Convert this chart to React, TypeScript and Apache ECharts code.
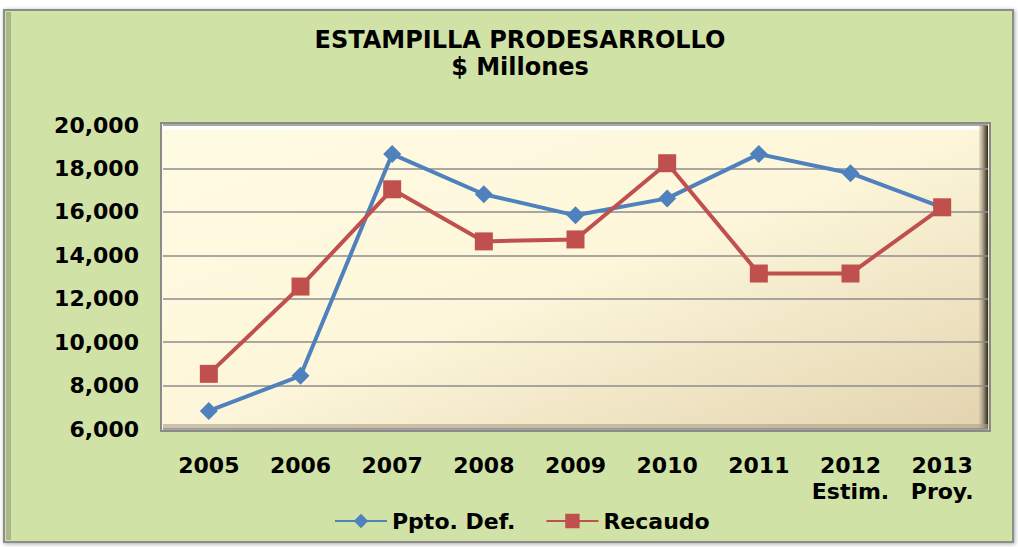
import React, { useEffect, useRef } from "react";
import * as echarts from "echarts";

const categories = ["2005", "2006", "2007", "2008", "2009", "2010", "2011", "2012\nEstim.", "2013\nProy."];
const pptoDef = [6830, 8450, 18660, 16810, 15840, 16620, 18660, 17780, 16210];
const recaudo = [8540, 12560, 17040, 14640, 14730, 18240, 13160, 13160, 16210];
const yMin = 6000;
const yMax = 20000;
const yStep = 2000;

const FONT = "'DejaVu Sans', 'Liberation Sans', Arial, sans-serif";

export default function App() {
  const ref = useRef<HTMLDivElement>(null);
  useEffect(() => {
    if (!ref.current) return;
    const chart = echarts.init(ref.current, undefined, { renderer: "svg" });
    const gL = 163, gT = 125, gR = 988, gB = 429;
    chart.setOption({
      animation: false,
      backgroundColor: "#ffffff",
      title: {
        text: "ESTAMPILLA PRODESARROLLO\n$ Millones",
        left: 515,
        top: 21,
        textAlign: "center",
        textStyle: { fontFamily: FONT, fontWeight: "bold", fontSize: 24, lineHeight: 27, color: "#000" },
      },
      graphic: [
        {
          type: "rect",
          z: -10,
          shape: { x: 4, y: 10, width: 1009, height: 532 },
          style: { fill: "#D1E2A6", stroke: "#8C8C8C", lineWidth: 2, shadowBlur: 4, shadowColor: "rgba(0,0,0,0.35)", shadowOffsetX: 1, shadowOffsetY: 1 },
          silent: true,
        },
        {
          type: "rect",
          z: -9,
          shape: { x: 6, y: 12, width: 5, height: 528 },
          style: { fill: "#A9B889" },
          silent: true,
        },
        {
          type: "rect",
          z: -9,
          shape: { x: gL - 2, y: gT - 2, width: gR - gL + 4, height: gB - gT + 4 },
          style: {
            fill: new echarts.graphic.LinearGradient(0, 0, 1, 1, [
              { offset: 0, color: "#FFFBE3" },
              { offset: 0.5, color: "#FDF6DA" },
              { offset: 1, color: "#E2D3AE" },
            ]),
            stroke: "#8A8A8A",
            lineWidth: 2,
          },
          silent: true,
        },
        {
          type: "rect",
          z: -8,
          shape: { x: gL, y: gT, width: gR - gL - 6, height: 5 },
          style: { fill: "rgba(255,255,255,0.9)" },
          silent: true,
        },
        {
          type: "rect",
          z: -8,
          shape: { x: gR - 9, y: gT, width: 9, height: gB - gT },
          style: {
            fill: new echarts.graphic.LinearGradient(0, 0, 1, 0, [
              { offset: 0, color: "rgba(200,190,160,0.4)" },
              { offset: 0.5, color: "#9A9078" },
              { offset: 1, color: "#2E2A22" },
            ]),
          },
          silent: true,
        },
        {
          type: "rect",
          z: -8,
          shape: { x: gL, y: gB - 5, width: gR - gL, height: 5 },
          style: { fill: "rgba(170,160,140,0.6)" },
          silent: true,
        },
      ],
      legend: {
        left: 329,
        top: 505,
        itemWidth: 52,
        itemHeight: 18,
        itemGap: 30,
        textStyle: { fontFamily: FONT, fontWeight: "bold", fontSize: 22, color: "#000" },
        data: ["Ppto. Def.", "Recaudo"],
      },
      grid: { left: gL, top: gT, right: 1018 - gR, bottom: 547 - gB },
      xAxis: {
        type: "category",
        data: categories,
        boundaryGap: true,
        axisLine: { show: false },
        axisTick: { show: false },
        axisLabel: {
          margin: 23,
          interval: 0,
          fontFamily: FONT,
          fontWeight: "bold",
          fontSize: 22,
          lineHeight: 26,
          color: "#000",
        },
      },
      yAxis: {
        type: "value",
        min: yMin,
        max: yMax,
        interval: yStep,
        axisLine: { show: false },
        axisTick: { show: false },
        axisLabel: {
          margin: 24,
          fontFamily: FONT,
          fontWeight: "bold",
          fontSize: 22,
          color: "#000",
          formatter: (v: number) => v.toLocaleString("en-US"),
        },
        splitLine: { lineStyle: { color: "#8C8C8C", width: 1.5 } },
      },
      series: [
        {
          name: "Ppto. Def.",
          type: "line",
          data: pptoDef,
          symbol: "diamond",
          symbolSize: 18,
          itemStyle: { color: "#4F81BD" },
          lineStyle: { color: "#4F81BD", width: 4 },
          z: 3,
        },
        {
          name: "Recaudo",
          type: "line",
          data: recaudo,
          symbol: "rect",
          symbolSize: 18,
          itemStyle: { color: "#C0504D" },
          lineStyle: { color: "#C0504D", width: 4 },
          z: 4,
        },
      ],
    });
    return () => chart.dispose();
  }, []);
  return (
    <div
      ref={ref}
      style={{ position: "fixed", left: 0, top: 0, width: 1018, height: 547 }}
    />
  );
}
